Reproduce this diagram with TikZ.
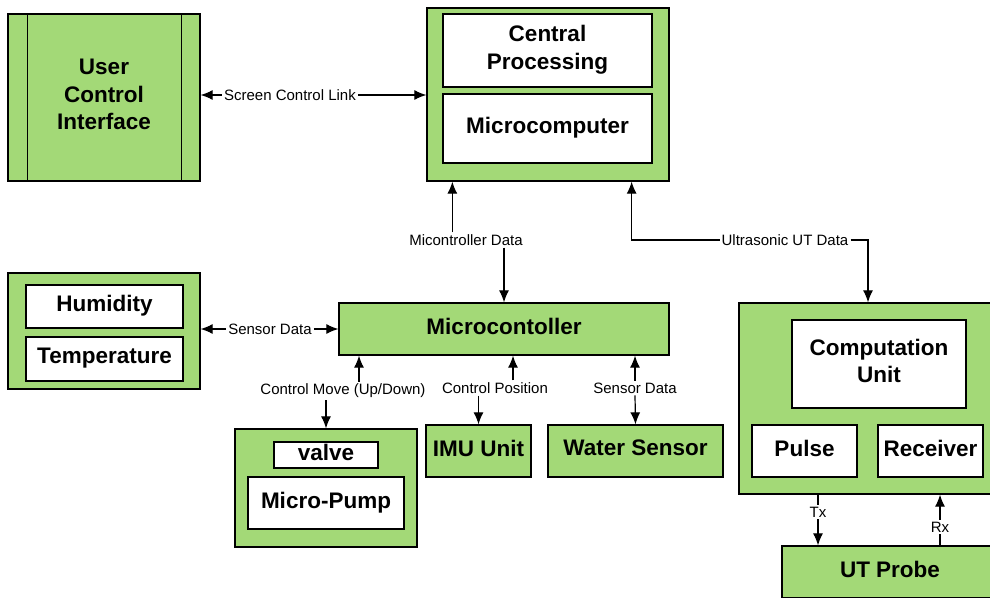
\documentclass[tikz,border=0pt]{standalone}
\usepackage{fontspec}
\setmainfont{Liberation Sans}
\usetikzlibrary{arrows.meta}
\definecolor{blkgreen}{HTML}{A3D977}

\begin{document}
\begin{tikzpicture}[x=1pt, y=-1pt, >={Latex[length=12pt,width=10pt]},
  every node/.style={align=center, line width=1.3pt},
  blk/.style={draw, fill=blkgreen, inner sep=0pt, text depth=6pt, font=\fontsize{22.5}{27.5}\selectfont\bfseries},
  sub/.style={draw, fill=white, inner sep=0pt, text depth=6pt, font=\fontsize{22.5}{27.5}\selectfont\bfseries},
  lbl/.style={inner sep=1.5pt, font=\fontsize{15}{18}\selectfont},
  link/.style={line width=1.2pt}]
\useasboundingbox (0,0) rectangle (990,597);
\clip (0,0) rectangle (990,597);

% blocks
\node[blk, minimum width=192pt, minimum height=167pt] at (104,97.5) (uci) {User\\Control\\Interface};
\draw[line width=1.3pt] ([xshift=20pt]uci.north west) -- ([xshift=20pt]uci.south west);
\draw[line width=1.3pt] ([xshift=-19pt]uci.north east) -- ([xshift=-19pt]uci.south east);

\node[blk, minimum width=242pt, minimum height=173pt] at (548,94.5) (cpu) {};
\node[sub, minimum width=209pt, minimum height=73pt] at (547.5,50.5) (central) {Central\\Processing};
\node[sub, minimum width=209pt, minimum height=69pt] at (547.5,128.5) (mcomp) {Microcomputer};

\node[blk, minimum width=192pt, minimum height=116pt] at (104,331) (env) {};
\node[sub, minimum width=157pt, minimum height=43pt] at (104.5,306.5) (humid) {Humidity};
\node[sub, minimum width=157pt, minimum height=44pt] at (104.5,359) (temp) {Temperature};

\node[blk, minimum width=330pt, minimum height=52pt] at (504,329) (mcu) {Microcontoller};

\node[blk, minimum width=182pt, minimum height=118pt] at (326,488) (pump) {};
\node[sub, minimum width=104pt, minimum height=26pt] at (326,455) (valve) {valve};
\node[sub, minimum width=156pt, minimum height=52pt] at (326,503) (mpump) {Micro-Pump};

\node[blk, minimum width=105pt, minimum height=52pt] at (478.5,451) (imu) {IMU Unit};
\node[blk, minimum width=175pt, minimum height=52pt] at (635.5,451) (water) {Water Sensor};

\node[blk, minimum width=258pt, minimum height=191pt] at (868,398.5) (ut) {};
\node[sub, minimum width=174pt, minimum height=88pt] at (879,364) (compu) {Computation\\Unit};
\node[sub, minimum width=105pt, minimum height=52pt] at (804.5,451) (pulse) {Pulse};
\node[sub, minimum width=105pt, minimum height=52pt] at (930.5,451) (recv) {Receiver};
\node[blk, minimum width=216pt, minimum height=52pt] at (890,572) (probe) {UT Probe};

% link labels
\node[lbl] at (290,95) (scl) {Screen Control Link};
\node[lbl] at (270,329) (sdata) {Sensor Data};
\node[lbl] at (466,240) (mdata) {Micontroller Data};
\node[lbl] at (785,240) (udata) {Ultrasonic UT Data};
\node[lbl] at (343,391) (cmove) {Control Move (Up/Down)};
\node[lbl] at (495,388) (cpos) {Control Position};
\node[lbl] at (635,388) (wdata) {Sensor Data};
\node[lbl] at (818,512) (tx) {Tx};
\node[lbl] at (940,527) (rx) {Rx};

% links
\draw[link, <-] (uci.east |- scl) -- (scl.west);
\draw[link, ->] (scl.east) -- (cpu.west |- scl);
\draw[link, <-] (env.east |- sdata) -- (sdata.west);
\draw[link, ->] (sdata.east) -- (mcu.west |- sdata);
\draw[link, ->] ([xshift=26pt]cpu.south west |- mdata.north) -- ([xshift=26pt]cpu.south west);
\draw[link, ->] (mdata.south -| mcu.north) -- (mcu.north);
\draw[link, <-] ([xshift=-38pt]cpu.south east) |- (udata.west);
\draw[link, ->] (udata.east) -| (ut.north);
\draw[link, ->] ([xshift=16pt]cmove.north) -- ([xshift=16pt]cmove.north |- mcu.south);
\draw[link, ->] (cmove.south -| pump.north) -- (pump.north);
\draw[link, ->] ([xshift=18pt]cpos.north) -- ([xshift=18pt]cpos.north |- mcu.south);
\draw[link, ->] (cpos.south -| imu.north) -- (imu.north);
\draw[link, ->] (wdata.north) -- (wdata.north |- mcu.south);
\draw[link, ->] (wdata.south) -- (water.north);
\draw[link] (ut.south -| tx) -- (tx.north);
\draw[link, ->] (tx.south) -- (probe.north -| tx);
\draw[link] (probe.north -| rx) -- (rx.south);
\draw[link, ->] (rx.north) -- (ut.south -| rx);
\end{tikzpicture}
\end{document}
